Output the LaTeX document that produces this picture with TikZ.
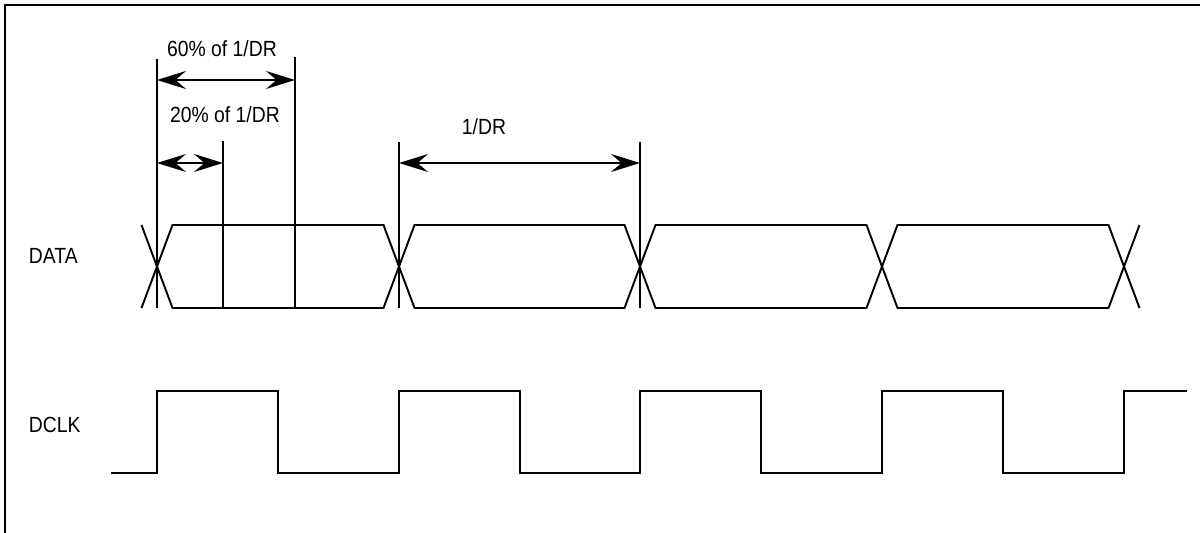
\documentclass[tikz,border=0pt]{standalone}
\usepackage{fontspec}
\setmainfont{Liberation Sans}[FakeStretch=0.88]
\usetikzlibrary{arrows.meta}
\usetikzlibrary{positioning}

\begin{document}
\begin{tikzpicture}[x=0.02cm, y=-0.02cm, line width=1.1pt]
        \tikzset{
          >={Stealth[length=0.58cm, width=0.36cm, inset=0.21cm]},
          every node/.style={
            inner sep = 0pt,
            font = \fontsize{12.5}{15}\selectfont,
          },
          wave/.style={line join=miter},
          frame/.style={line width=1.3pt},
        }
        \useasboundingbox (0,0) rectangle (1200,533);
        \draw[frame] (5,533) -- (5,5) -- (1200,5);
        % signal names
        \node[anchor=base west] (data) at (28,264) {DATA};
        \node[anchor=base west] (dclk) at (28,432) {DCLK};
        % DATA eyes
        \foreach \a/\b in {157/399, 399/640, 640/882, 882/1124}
          \draw[wave] (\a,266.5) -- ({\a+15.5},225) -- ({\b-15.5},225)
            -- (\b,266.5) -- ({\b-15.5},308) -- ({\a+15.5},308) -- cycle;
        \draw[wave] (141.5,225) -- (157,266.5) -- (141.5,308);
        \draw[wave] (1139.5,225) -- (1124,266.5) -- (1139.5,308);
        % DCLK
        \draw[wave] (111,473)
          \foreach \r in {157,399,640,882} {
            -- (\r,473) -- (\r,391) -- ({\r+121},391) -- ({\r+121},473)
          } -- (1124,473) -- (1124,391) -- (1187,391);
        % marker lines
        \coordinate (m0t) at (157,59);   \coordinate (m0b) at (157,308);
        \coordinate (m20t) at (223,141); \coordinate (m20b) at (223,308);
        \coordinate (m60t) at (295,57);  \coordinate (m60b) at (295,308);
        \coordinate (p1t) at (399,142);  \coordinate (p1b) at (399,308);
        \coordinate (p2t) at (640,142);  \coordinate (p2b) at (640,308);
        \draw (m0t) -- (m0b);
        \draw (m20t) -- (m20b);
        \draw (m60t) -- (m60b);
        \draw (p1t) -- (p1b);
        \draw (p2t) -- (p2b);
        % dimensions
        \coordinate (a60l) at (157,80);  \coordinate (a60r) at (295,80);
        \coordinate (a20l) at (157,163); \coordinate (a20r) at (223,163);
        \coordinate (a1l) at (399,163);  \coordinate (a1r) at (640,163);
        \draw[<->] (a60l) -- (a60r);
        \draw[<->] (a20l) -- (a20r);
        \draw[<->] (a1l) -- (a1r);
        \node[anchor=base] (l60) at (222,57) {60\% of 1/DR};
        \node[anchor=base] (l20) at (225,123) {20\% of 1/DR};
        \node[anchor=base] (l1) at (484,135) {1/DR};
\end{tikzpicture}
\end{document}
